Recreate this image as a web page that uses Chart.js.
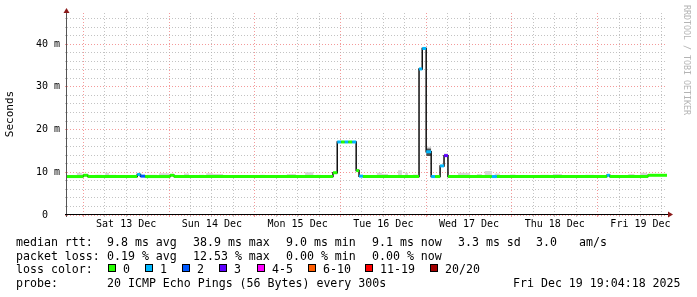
<!DOCTYPE html>
<html>
<head>
<meta charset="utf-8">
<script src="https://cdn.jsdelivr.net/npm/chart.js@4.4.1/dist/chart.umd.min.js"></script>
<style>
    html, body { margin: 0; padding: 0; background: #fff; }
    #quadro { position: relative; width: 697px; height: 297px; overflow: hidden; font-family: 'DejaVu Sans Mono', monospace; color: #000; }
    #grafico { position: absolute; left: 0; top: 0; }
    .texto-legenda { position: absolute; font-size: 11.6px; line-height: 14px; white-space: pre; }
    .caixa-cor { position: absolute; width: 6px; height: 6px; border: 1px solid #000; }
    #marca { position: absolute; left: 682px; top: 5px; writing-mode: vertical-rl; font-size: 8.3px; line-height: 10px; color: #b4b4b4; white-space: pre; }
</style>
</head>
<body>
<div id="quadro">
    <canvas id="grafico" width="697" height="297"></canvas>
    <div id="marca">RRDTOOL / TOBI OETIKER</div>
    <div id="legenda"></div>
</div>
<script>
// horas contadas a partir de sab 13 dez 00:00
const inicioHoras = -4.57;
const fimHoras = 163.43;

const rotulosDias = ['Sat 13 Dec', 'Sun 14 Dec', 'Mon 15 Dec', 'Tue 16 Dec', 'Wed 17 Dec', 'Thu 18 Dec', 'Fri 19 Dec'];
const marcasYPrincipais = [0, 10, 20, 30, 40];
const rotulosY = ['0  ', '10 m', '20 m', '30 m', '40 m'];

// mediana (ms): cada valor vale do seu instante ate o proximo
const rttTempos = [-4.57, 0, 1.25, 15.1, 16.0, 17.3, 24.3, 25.4, 69.9, 71.1, 72.2, 73.2, 74.2, 75.3, 76.4, 77.2, 78.3,
    94.0, 94.9, 96.0, 97.4, 98.5, 99.9, 101.0, 102.1, 114.4, 115.8, 146.6, 147.4, 158.1];
const rttValores = [9.0, 9.3, 9.0, 9.5, 9.1, 9.0, 9.3, 9.0, 9.9, 17.1, 17.1, 17.1, 17.1, 17.1, 10.4, 9.1, 9.0,
    34.2, 39.0, 14.8, 9.0, 9.0, 11.5, 13.9, 9.0, 9.0, 9.0, 9.3, 9.0, 9.3];
const rttPerda = [0, 0, 0, 1, 2, 0, 0, 0, 0, 1, 0, 1, 0, 1, 0, 1, 0,
    1, 1, 1, 1, 0, 1, 3, 0, 1, 0, 1, 0, 0];

// fumaca clara
const fumacaInicios = [-4.57, -1.8, 3.3, 6.1, 7.2, 17.8, 21.2, 28.2, 32.4, 34.4, 36.3, 40.2, 49.5, 57.0, 62.1, 65.3,
    82.2, 83.6, 86.4, 88.1, 90.1, 92.3, 96.0, 101.0, 104.9, 110.2, 112.4, 115.2, 119.5, 128.0, 131.5, 140.5, 152.6, 155.9];
const fumacaFins = [-2.9, -0.4, 5.2, 7.2, 9.2, 20.6, 24.0, 29.6, 33.8, 36.3, 39.1, 43.8, 50.8, 59.5, 64.4, 66.5,
    83.6, 85.3, 87.2, 89.2, 90.9, 93.7, 97.4, 102.1, 108.3, 111.6, 114.4, 116.6, 121.0, 130.5, 134.0, 143.0, 154.3, 157.9];
const fumacaBaixos = [9.0, 9.0, 9.0, 9.0, 9.0, 9.0, 9.0, 9.0, 9.0, 9.0, 9.0, 9.0, 9.0, 9.0, 9.0, 9.0,
    9.0, 9.0, 9.0, 9.0, 9.0, 9.0, 15.6, 13.9, 9.0, 9.0, 9.0, 9.0, 9.0, 9.0, 9.0, 9.0, 9.0, 9.0];
const fumacaAltos = [9.3, 9.9, 9.4, 9.9, 9.4, 9.4, 9.8, 9.7, 9.4, 9.8, 9.6, 9.3, 9.4, 9.6, 10.0, 9.4,
    9.9, 9.6, 9.3, 10.5, 9.9, 9.5, 16.0, 14.4, 9.9, 9.6, 10.3, 9.7, 9.5, 9.4, 9.6, 9.4, 9.6, 9.9];

// fumaca escura
const fumacaEscuraInicios = [96.0];
const fumacaEscuraFins = [97.4];
const fumacaEscuraBaixos = [13.8];
const fumacaEscuraAltos = [15.6];

const coresPerda = ['#26ff00', '#00b8ff', '#0059ff', '#5e00ff', '#ff00ff', '#ff5e00', '#ff0000', '#a10000'];
const rotulosPerda = ['0', '1', '2', '3', '4-5', '6-10', '11-19', '20/20'];

const corGradeMenor = 'rgba(175, 175, 175, 0.75)';
const corGradeMaior = 'rgba(240, 120, 120, 0.75)';

function criarDegraus(inicios, fins, valores, repouso) {
    const pontos = [];
    inicios.forEach((inicio, i) => {
        pontos.push({ x: inicio, y: valores[i] });
        pontos.push({ x: fins[i], y: repouso });
    });
    return pontos;
}

function criarMediana() {
    const pontos = rttTempos.map((t, i) => ({ x: t, y: rttValores[i] }));
    pontos.push({ x: fimHoras, y: rttValores[rttValores.length - 1] });
    return pontos;
}

function criarTrechosCor() {
    const pontos = [];
    rttTempos.forEach((t, i) => {
        const fim = i + 1 < rttTempos.length ? rttTempos[i + 1] : fimHoras;
        pontos.push({ x: t, y: rttValores[i] });
        pontos.push({ x: fim, y: rttValores[i] });
    });
    return pontos;
}

const marcasX = [];
for (let h = 0; h <= fimHoras; h += 6) marcasX.push(h);
const marcasY = [];
for (let v = 0; v <= 46; v += 2) marcasY.push(v);

const fonteEixo = { family: 'DejaVu Sans Mono', size: 10 };

const pluginEixos = {
    id: 'eixos',
    afterDatasetsDraw(chart) {
        const { ctx, chartArea: area } = chart;
        ctx.save();
        ctx.lineWidth = 1;
        ctx.strokeStyle = '#555';
        ctx.beginPath();
        ctx.moveTo(area.left - 0.5, area.bottom + 2);
        ctx.lineTo(area.left - 0.5, area.top - 2);
        ctx.stroke();
        ctx.strokeStyle = '#000';
        ctx.beginPath();
        ctx.moveTo(area.left - 2, area.bottom - 0.5);
        ctx.lineTo(area.right + 2, area.bottom - 0.5);
        ctx.stroke();

        ctx.fillStyle = '#8b1a1a';
        ctx.beginPath();
        ctx.moveTo(area.left - 0.5, area.top - 5);
        ctx.lineTo(area.left - 3.5, area.top);
        ctx.lineTo(area.left + 2.5, area.top);
        ctx.closePath();
        ctx.fill();
        ctx.beginPath();
        ctx.moveTo(area.right + 6, area.bottom - 0.5);
        ctx.lineTo(area.right + 1, area.bottom - 3.5);
        ctx.lineTo(area.right + 1, area.bottom + 2.5);
        ctx.closePath();
        ctx.fill();
        ctx.restore();
    }
};

new Chart(document.getElementById('grafico'), {
    type: 'line',
    data: {
        datasets: [
            {
                data: criarTrechosCor(),
                borderWidth: 3,
                borderColor: coresPerda[0],
                borderCapStyle: 'butt',
                pointRadius: 0,
                fill: false,
                order: 0,
                segment: {
                    borderColor: ctx => ctx.p0DataIndex % 2 === 1
                        ? 'rgba(0,0,0,0)'
                        : coresPerda[rttPerda[Math.floor(ctx.p0DataIndex / 2)]]
                }
            },
            {
                data: criarMediana(),
                stepped: true,
                borderWidth: 1.5,
                borderColor: '#111',
                pointRadius: 0,
                fill: false,
                order: 1
            },
            {
                data: criarDegraus(fumacaInicios, fumacaFins, fumacaBaixos, 9.0),
                stepped: true,
                borderWidth: 0,
                borderColor: 'rgba(0,0,0,0)',
                pointRadius: 0,
                fill: false,
                order: 4
            },
            {
                data: criarDegraus(fumacaInicios, fumacaFins, fumacaAltos, 9.0),
                stepped: true,
                borderWidth: 0,
                borderColor: 'rgba(0,0,0,0)',
                backgroundColor: '#d6d6d6',
                pointRadius: 0,
                fill: '-1',
                order: 3
            },
            {
                data: criarDegraus(fumacaEscuraInicios, fumacaEscuraFins, fumacaEscuraBaixos, 9.0),
                stepped: true,
                borderWidth: 0,
                borderColor: 'rgba(0,0,0,0)',
                pointRadius: 0,
                fill: false,
                order: 4
            },
            {
                data: criarDegraus(fumacaEscuraInicios, fumacaEscuraFins, fumacaEscuraAltos, 9.0),
                stepped: true,
                borderWidth: 0,
                borderColor: 'rgba(0,0,0,0)',
                backgroundColor: '#505050',
                pointRadius: 0,
                fill: '-1',
                order: 2
            }
        ]
    },
    options: {
        responsive: false,
        animation: false,
        devicePixelRatio: 1,
        layout: { padding: { left: 0, top: 13, right: 30, bottom: 65 } },
        plugins: { legend: { display: false }, tooltip: { enabled: false } },
        events: [],
        scales: {
            x: {
                type: 'linear',
                min: inicioHoras,
                max: fimHoras,
                afterBuildTicks: escala => { escala.ticks = marcasX.map(v => ({ value: v })); },
                afterFit: escala => { escala.height = 17; },
                ticks: {
                    autoSkip: false,
                    maxRotation: 0,
                    padding: 1,
                    color: '#000',
                    font: fonteEixo,
                    callback: v => v % 24 === 12 ? rotulosDias[Math.floor(v / 24)] : ''
                },
                grid: {
                    color: ctx => ctx.tick && ctx.tick.value % 24 === 0 ? corGradeMaior : corGradeMenor,
                    tickColor: ctx => ctx.tick && ctx.tick.value % 24 === 0 ? corGradeMaior : corGradeMenor,
                    lineWidth: 1,
                    tickLength: 2
                },
                border: { display: false, dash: [1, 2] }
            },
            y: {
                type: 'linear',
                min: 0,
                max: 47.3,
                afterBuildTicks: escala => { escala.ticks = marcasY.map(v => ({ value: v })); },
                afterFit: escala => { escala.width = 67; },
                ticks: {
                    autoSkip: false,
                    padding: 5,
                    color: '#000',
                    font: fonteEixo,
                    callback: v => {
                        const indice = marcasYPrincipais.indexOf(v);
                        return indice >= 0 ? rotulosY[indice] : '';
                    }
                },
                grid: {
                    color: ctx => ctx.tick && ctx.tick.value % 10 === 0 ? corGradeMaior : corGradeMenor,
                    tickColor: ctx => ctx.tick && ctx.tick.value % 10 === 0 ? corGradeMaior : corGradeMenor,
                    lineWidth: 1,
                    tickLength: 2
                },
                border: { display: false, dash: [1, 2] },
                title: {
                    display: true,
                    text: 'Seconds',
                    color: '#000',
                    font: { family: 'DejaVu Sans Mono', size: 11 },
                    padding: { top: 4, bottom: 0 }
                }
            }
        }
    },
    plugins: [pluginEixos]
});

// legenda em texto
const linhasLegenda = [
    { topo: 235, itens: [[16, 'median rtt:'], [107, '9.8 ms avg'], [193, '38.9 ms max'], [286, '9.0 ms min'], [372, '9.1 ms now'], [458, '3.3 ms sd'], [536, '3.0'], [579, 'am/s']] },
    { topo: 249, itens: [[16, 'packet loss:'], [107, '0.19 % avg'], [193, '12.53 % max'], [286, '0.00 % min'], [372, '0.00 % now']] },
    { topo: 262, itens: [[16, 'loss color:']] },
    { topo: 276, itens: [[16, 'probe:'], [107, '20 ICMP Echo Pings (56 Bytes) every 300s'], [513, 'Fri Dec 19 19:04:18 2025']] }
];
const posicoesCaixas = [108, 145, 182, 219, 257, 308, 365, 430];

function criarLegenda() {
    const textos = linhasLegenda.map(linha => linha.itens.map(([x, texto]) =>
        `<div class="texto-legenda" style="left:${x}px;top:${linha.topo}px">${texto}</div>`).join('')).join('');
    const caixas = posicoesCaixas.map((x, i) => `
        <div class="caixa-cor" style="left:${x}px;top:264px;background:${coresPerda[i]}"></div>
        <div class="texto-legenda" style="left:${x + 15}px;top:262px">${rotulosPerda[i]}</div>
    `).join('');
    return textos + caixas;
}

document.getElementById('legenda').innerHTML = criarLegenda();
</script>
</body>
</html>
